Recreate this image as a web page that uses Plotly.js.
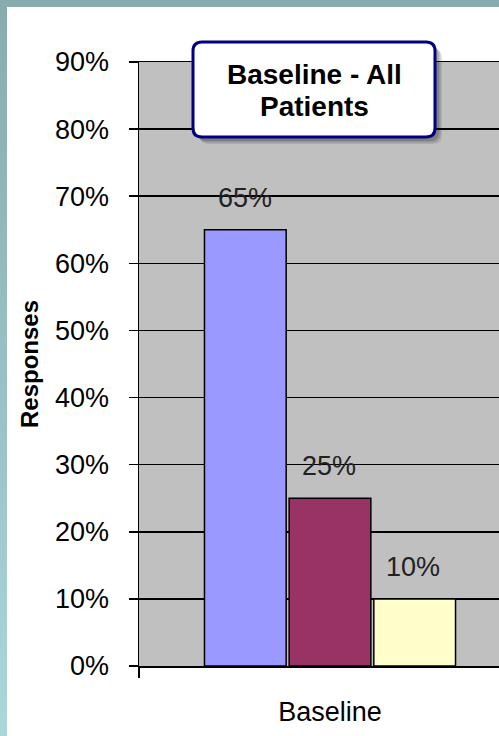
<!DOCTYPE html>
<html>
<head>
<meta charset="utf-8">
<script src="https://cdn.plot.ly/plotly-3.0.1.min.js"></script>
<style>
  html, body { margin: 0; padding: 0; width: 499px; height: 736px; overflow: hidden;
    background: linear-gradient(to bottom, #88abaf 0%, #9cc4c8 60%, #aad7db 100%); }
  #chart { position: absolute; left: 7px; top: 7px; width: 530px; height: 729px; background: #fff; }
</style>
</head>
<body>
<div id="chart"></div>
<script>
// ---- data ----
const categories = ['Baseline'];
const seriesNames = ['Series 1', 'Series 2', 'Series 3'];
const seriesValues = [[0.65], [0.25], [0.10]];
const yTickVals = [0, 0.1, 0.2, 0.3, 0.4, 0.5, 0.6, 0.7, 0.8, 0.9];
const yTickText = ['0%', '10%', '20%', '30%', '40%', '50%', '60%', '70%', '80%', '90%'];
const chartTitle = ['Baseline - All', 'Patients'];
const yAxisTitle = 'Responses';

// ---- style ----
const barColors = ['#9999ff', '#993366', '#ffffcc'];
const FONT = 'Liberation Sans, Arial, sans-serif';
const W = 530, H = 729;
const M = { l: 132, r: 16, t: 55, b: 70 };
const PW = W - M.l - M.r, PH = H - M.t - M.b;
const BARGAP = 0.335, GROUPGAP = 0.035;

const px = x => (x - M.l) / PW;
const py = y => (M.t + PH - y) / PH;

function roundRect(x0, y0, x1, y1, r) {
  const P = (x, y) => px(x) + ',' + py(y);
  return 'M' + P(x0 + r, y0) + ' L' + P(x1 - r, y0) + ' Q' + P(x1, y0) + ' ' + P(x1, y0 + r) +
    ' L' + P(x1, y1 - r) + ' Q' + P(x1, y1) + ' ' + P(x1 - r, y1) +
    ' L' + P(x0 + r, y1) + ' Q' + P(x0, y1) + ' ' + P(x0, y1 - r) +
    ' L' + P(x0, y0 + r) + ' Q' + P(x0, y0) + ' ' + P(x0 + r, y0) + ' Z';
}

const traces = seriesNames.map((name, i) => ({
  type: 'bar',
  name: name,
  x: categories,
  y: seriesValues[i],
  marker: { color: barColors[i], line: { color: '#000', width: 1.5 } },
  hoverinfo: 'skip'
}));

// data labels via annotations above each bar
const n = seriesNames.length;
const slot = (1 - BARGAP) / n;
const annotations = [];
seriesValues.forEach((vals, i) => {
  vals.forEach((v, j) => {
    annotations.push({
      xref: 'x', yref: 'y',
      x: j + (i - (n - 1) / 2) * slot,
      y: v,
      yshift: 32,
      xshift: -1 * i,
      text: Math.round(v * 100) + '%',
      showarrow: false,
      xanchor: 'center', yanchor: 'middle',
      font: { family: FONT, size: 27, color: '#222' }
    });
  });
});

// title box
const bx0 = 186, by0 = 35, bx1 = 428, by1 = 130;
const shapes = [];
[[7, 0.10], [5.5, 0.12], [4, 0.15]].forEach(([o, a]) => {
  shapes.push({
    type: 'path', xref: 'paper', yref: 'paper', layer: 'above',
    path: roundRect(bx0 + o, by0 + o, bx1 + o, by1 + o, 9),
    fillcolor: 'rgba(0,0,0,' + a + ')', line: { width: 0 }
  });
});
shapes.push({
  type: 'path', xref: 'paper', yref: 'paper', layer: 'above',
  path: roundRect(bx0, by0, bx1, by1, 9),
  fillcolor: '#ffffff', line: { color: '#000080', width: 3 }
});
chartTitle.forEach((t, k) => {
  annotations.push({
    xref: 'paper', yref: 'paper',
    x: px((bx0 + bx1) / 2), y: py(67 + k * 32),
    text: '<b>' + t + '</b>', showarrow: false,
    xanchor: 'center', yanchor: 'middle',
    font: { family: FONT, size: 28, color: '#000' }
  });
});

const layout = {
  width: W, height: H,
  margin: M,
  paper_bgcolor: '#ffffff',
  plot_bgcolor: '#c0c0c0',
  showlegend: false,
  barmode: 'group',
  bargap: BARGAP,
  bargroupgap: GROUPGAP,
  font: { family: FONT, color: '#000' },
  xaxis: {
    type: 'category',
    showgrid: false,
    showline: true, linecolor: '#000', linewidth: 1.5, mirror: true,
    ticks: 'outside', tickson: 'boundaries', ticklen: 10, tickwidth: 1.5, tickcolor: '#000',
    ticklabelstandoff: 21,
    tickfont: { family: FONT, size: 27, color: '#000' },
    fixedrange: true
  },
  yaxis: {
    range: [0, 0.9],
    tickvals: yTickVals, ticktext: yTickText,
    showgrid: true, gridcolor: '#000', gridwidth: 1.5,
    zeroline: false,
    showline: true, linecolor: '#000', linewidth: 1.5,
    ticks: 'outside', ticklen: 9, tickwidth: 1.5, tickcolor: '#000',
    ticklabelstandoff: 14,
    tickfont: { family: FONT, size: 27, color: '#000' },
    title: { text: '<b>' + yAxisTitle + '</b>', font: { family: FONT, size: 24, color: '#000' }, standoff: 9 },
    fixedrange: true
  },
  shapes: shapes,
  annotations: annotations
};

Plotly.newPlot('chart', traces, layout, { displayModeBar: false, staticPlot: true });
</script>
</body>
</html>
